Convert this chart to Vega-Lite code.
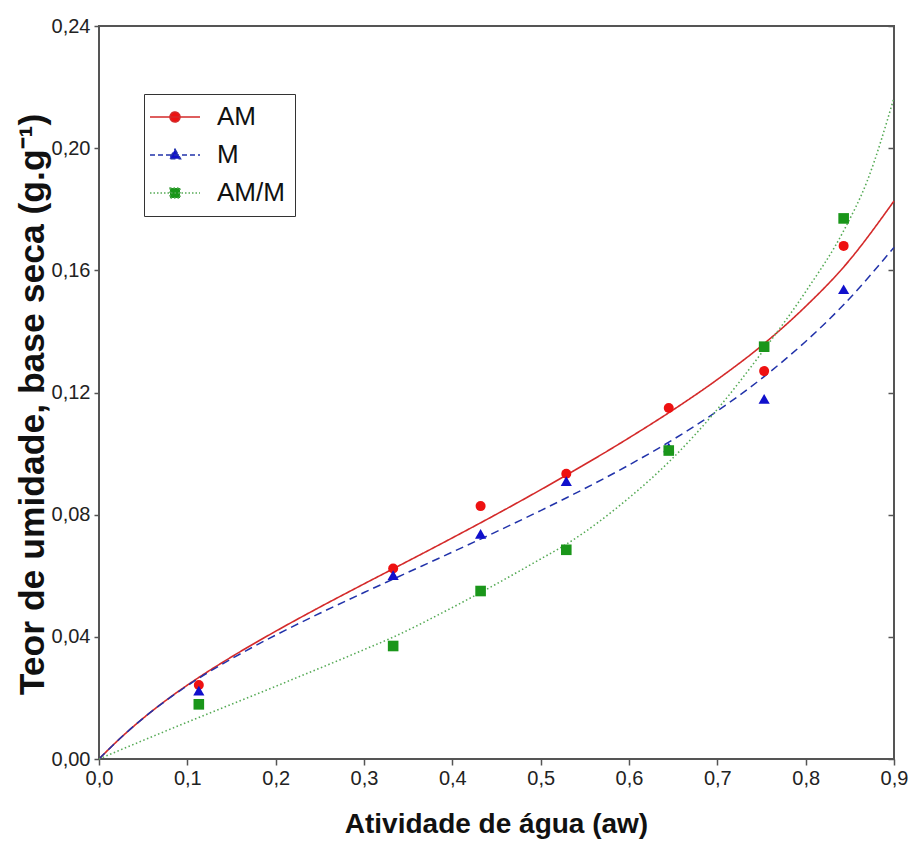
{
  "$schema": "https://vega.github.io/schema/vega-lite/v6.json",
  "autosize": "none",
  "width": 795,
  "height": 733,
  "padding": {"left": 99, "top": 26, "right": 17, "bottom": 87},
  "background": "white",
  "config": {
    "view": {"stroke": "#555555", "strokeWidth": 2},
    "font": "Liberation Sans"
  },
  "resolve": {"scale": {"shape": "independent", "fill": "independent", "stroke": "independent", "strokeDash": "independent"}},
  "datasets": {
    "fit": [
      {"series": "AM", "aw": 0, "m": 0},
      {"series": "AM", "aw": 0.02, "m": 0.0057},
      {"series": "AM", "aw": 0.05, "m": 0.01335},
      {"series": "AM", "aw": 0.08, "m": 0.0201},
      {"series": "AM", "aw": 0.113, "m": 0.0267},
      {"series": "AM", "aw": 0.15, "m": 0.03343},
      {"series": "AM", "aw": 0.2, "m": 0.04183},
      {"series": "AM", "aw": 0.25, "m": 0.04973},
      {"series": "AM", "aw": 0.3, "m": 0.05733},
      {"series": "AM", "aw": 0.333, "m": 0.06228},
      {"series": "AM", "aw": 0.4, "m": 0.0724},
      {"series": "AM", "aw": 0.45, "m": 0.08015},
      {"series": "AM", "aw": 0.5, "m": 0.08815},
      {"series": "AM", "aw": 0.53, "m": 0.0931},
      {"series": "AM", "aw": 0.6, "m": 0.10514},
      {"series": "AM", "aw": 0.646, "m": 0.11356},
      {"series": "AM", "aw": 0.7, "m": 0.12425},
      {"series": "AM", "aw": 0.754, "m": 0.13624},
      {"series": "AM", "aw": 0.8, "m": 0.1482},
      {"series": "AM", "aw": 0.844, "m": 0.1614},
      {"series": "AM", "aw": 0.9, "m": 0.1827},
      {"series": "M", "aw": 0, "m": 0},
      {"series": "M", "aw": 0.02, "m": 0.0057},
      {"series": "M", "aw": 0.05, "m": 0.01335},
      {"series": "M", "aw": 0.08, "m": 0.02001},
      {"series": "M", "aw": 0.113, "m": 0.02645},
      {"series": "M", "aw": 0.15, "m": 0.03281},
      {"series": "M", "aw": 0.2, "m": 0.04056},
      {"series": "M", "aw": 0.25, "m": 0.04771},
      {"series": "M", "aw": 0.3, "m": 0.05451},
      {"series": "M", "aw": 0.333, "m": 0.0589},
      {"series": "M", "aw": 0.4, "m": 0.06774},
      {"series": "M", "aw": 0.45, "m": 0.07444},
      {"series": "M", "aw": 0.5, "m": 0.08134},
      {"series": "M", "aw": 0.53, "m": 0.08563},
      {"series": "M", "aw": 0.6, "m": 0.09627},
      {"series": "M", "aw": 0.646, "m": 0.10391},
      {"series": "M", "aw": 0.7, "m": 0.11395},
      {"series": "M", "aw": 0.754, "m": 0.12545},
      {"series": "M", "aw": 0.8, "m": 0.13672},
      {"series": "M", "aw": 0.844, "m": 0.14904},
      {"series": "M", "aw": 0.9, "m": 0.16752},
      {"series": "AM/M", "aw": 0, "m": 0},
      {"series": "AM/M", "aw": 0.05, "m": 0.0061},
      {"series": "AM/M", "aw": 0.113, "m": 0.0136},
      {"series": "AM/M", "aw": 0.2, "m": 0.0238},
      {"series": "AM/M", "aw": 0.3, "m": 0.0358},
      {"series": "AM/M", "aw": 0.333, "m": 0.0399},
      {"series": "AM/M", "aw": 0.4, "m": 0.0496},
      {"series": "AM/M", "aw": 0.432, "m": 0.0545},
      {"series": "AM/M", "aw": 0.5, "m": 0.0655},
      {"series": "AM/M", "aw": 0.53, "m": 0.0705},
      {"series": "AM/M", "aw": 0.6, "m": 0.0855},
      {"series": "AM/M", "aw": 0.646, "m": 0.0975},
      {"series": "AM/M", "aw": 0.7, "m": 0.1145},
      {"series": "AM/M", "aw": 0.754, "m": 0.1345},
      {"series": "AM/M", "aw": 0.8, "m": 0.153},
      {"series": "AM/M", "aw": 0.844, "m": 0.1735},
      {"series": "AM/M", "aw": 0.87, "m": 0.1895},
      {"series": "AM/M", "aw": 0.9, "m": 0.2165}
    ],
    "pts": [
      {"series": "AM", "aw": 0.113, "m": 0.0242},
      {"series": "AM", "aw": 0.333, "m": 0.0624},
      {"series": "AM", "aw": 0.432, "m": 0.0828},
      {"series": "AM", "aw": 0.529, "m": 0.0934},
      {"series": "AM", "aw": 0.645, "m": 0.1149},
      {"series": "AM", "aw": 0.753, "m": 0.127},
      {"series": "AM", "aw": 0.843, "m": 0.168},
      {"series": "M", "aw": 0.113, "m": 0.0224},
      {"series": "M", "aw": 0.333, "m": 0.0602},
      {"series": "M", "aw": 0.432, "m": 0.0737},
      {"series": "M", "aw": 0.529, "m": 0.091},
      {"series": "M", "aw": 0.645, "m": 0.102},
      {"series": "M", "aw": 0.753, "m": 0.1179},
      {"series": "M", "aw": 0.843, "m": 0.1538},
      {"series": "AM/M", "aw": 0.113, "m": 0.0179},
      {"series": "AM/M", "aw": 0.333, "m": 0.037},
      {"series": "AM/M", "aw": 0.432, "m": 0.055},
      {"series": "AM/M", "aw": 0.529, "m": 0.0685},
      {"series": "AM/M", "aw": 0.645, "m": 0.101},
      {"series": "AM/M", "aw": 0.753, "m": 0.135},
      {"series": "AM/M", "aw": 0.843, "m": 0.177}
    ]
  },
  "encoding": {
    "x": {
      "field": "aw", "type": "quantitative",
      "scale": {"domain": [0, 0.9], "nice": false, "zero": false},
      "axis": {
        "values": [0, 0.1, 0.2, 0.3, 0.4, 0.5, 0.6, 0.7, 0.8, 0.9],
        "labelExpr": "replace(format(datum.value, '.1f'), '.', ',')",
        "domain": false, "grid": false,
        "tickColor": "#555555", "tickSize": 6, "tickWidth": 1.5,
        "labelFont": "Liberation Sans",
        "labelFontSize": 20, "labelColor": "#222222", "labelPadding": 3,
        "labelFlush": false,
        "title": "Atividade de água (aw)",
        "titleFont": "Liberation Sans",
        "titleFontSize": 28, "titleFontWeight": "bold", "titleColor": "#111111",
        "titleX": 397, "titleY": 65, "titleBaseline": "middle", "titleAlign": "center", "titleAnchor": null
      }
    },
    "y": {
      "field": "m", "type": "quantitative",
      "scale": {"domain": [0, 0.24], "nice": false, "zero": false},
      "axis": {
        "orient": "left",
        "values": [0, 0.04, 0.08, 0.12, 0.16, 0.2, 0.24],
        "labelExpr": "replace(format(datum.value, '.2f'), '.', ',')",
        "domain": false, "grid": false,
        "tickColor": "#555555", "tickSize": 5, "tickWidth": 1.5,
        "labelFont": "Liberation Sans",
        "labelFontSize": 20, "labelColor": "#222222", "labelPadding": 4,
        "labelFlush": false,
        "title": "Teor de umidade, base seca (g.g⁻¹)",
        "titleFont": "Liberation Sans",
        "titleFontSize": 35.5, "titleFontWeight": "bold", "titleColor": "#111111",
        "titleX": -67, "titleY": 378, "titleBaseline": "middle", "titleAlign": "center", "titleAngle": 270, "titleAnchor": null
      }
    }
  },
  "layer": [
    {
      "data": {"name": "fit"},
      "mark": {"type": "line", "interpolate": "monotone"},
      "encoding": {
        "detail": {"field": "series"},
        "stroke": {
          "field": "series", "type": "nominal",
          "scale": {"domain": ["AM", "M", "AM/M"], "range": ["#d42a2a", "#2233aa", "#55aa55"]},
          "legend": null
        },
        "strokeDash": {
          "field": "series", "type": "nominal",
          "scale": {"domain": ["AM", "M", "AM/M"], "range": [[1, 0], [8, 5], [1.5, 2.5]]},
          "legend": null
        },
        "strokeWidth": {
          "field": "series", "type": "nominal",
          "scale": {"range": [1.6, 1.5, 2]},
          "legend": null
        }
      }
    },
    {
      "data": {"name": "pts"},
      "mark": {"type": "point", "filled": true, "opacity": 1},
      "encoding": {
        "y": {
          "field": "m", "type": "quantitative", "axis": null
        },
        "fill": {
          "field": "series", "type": "nominal",
          "scale": {"domain": ["AM", "M", "AM/M"], "range": ["#ee1111", "#1010cc", "#1a961a"]},
          "legend": null
        },
        "shape": {
          "field": "series", "type": "nominal",
          "scale": {"domain": ["AM", "M", "AM/M"], "range": ["circle", "triangle-up", "square"]},
          "legend": null
        },
        "size": {
          "field": "series", "type": "nominal",
          "scale": {"range": [100, 125, 105]},
          "legend": null
        }
      }
    },
    {
      "data": {"name": "pts"},
      "transform": [{"filter": "datum.aw < 0"}],
      "mark": {"type": "point", "filled": true},
      "encoding": {
        "y": {
          "field": "m", "type": "quantitative",
          "axis": {
            "orient": "right",
            "values": [0, 0.04, 0.08, 0.12, 0.16, 0.2, 0.24],
            "labels": false, "domain": false, "grid": false, "title": null,
            "tickColor": "#555555", "tickSize": -6, "tickWidth": 1.5
          }
        },
        "shape": {
          "field": "series", "type": "nominal",
          "scale": {
            "domain": ["AM", "M", "AM/M"],
            "range": [
              "M-5,0H5M-1,0C-1,-0.55 -0.55,-1 0,-1C0.55,-1 1,-0.55 1,0C1,0.55 0.55,1 0,1C-0.55,1 -1,0.55 -1,0Z",
              "M-5,0H5M0,-1.15L1.1,0.75L-1.1,0.75Z",
              "M-5,0H5M-1,-1H1V1H-1Z"
            ]
          },
          "legend": {
            "orient": "none", "legendX": 45, "legendY": 68,
            "title": null,
            "fillColor": "white", "strokeColor": "#333333",
            "padding": 10,
            "labelFont": "Liberation Sans",
            "labelFontSize": 26, "labelColor": "#111111",
            "symbolSize": 100, "symbolOffset": 8, "labelOffset": 29,
            "symbolStrokeWidth": 1.5, "symbolOpacity": 1,
            "rowPadding": 12
          }
        },
        "fill": {
          "field": "series", "type": "nominal",
          "scale": {"domain": ["AM", "M", "AM/M"], "range": ["#ee1111", "#1010cc", "#1a961a"]}
        },
        "stroke": {
          "field": "series", "type": "nominal",
          "scale": {"domain": ["AM", "M", "AM/M"], "range": ["#d42a2a", "#2233aa", "#55aa55"]}
        },
        "strokeDash": {
          "field": "series", "type": "nominal",
          "scale": {"domain": ["AM", "M", "AM/M"], "range": [[1, 0], [5, 3], [1.5, 2]]}
        }
      }
    }
  ]
}
